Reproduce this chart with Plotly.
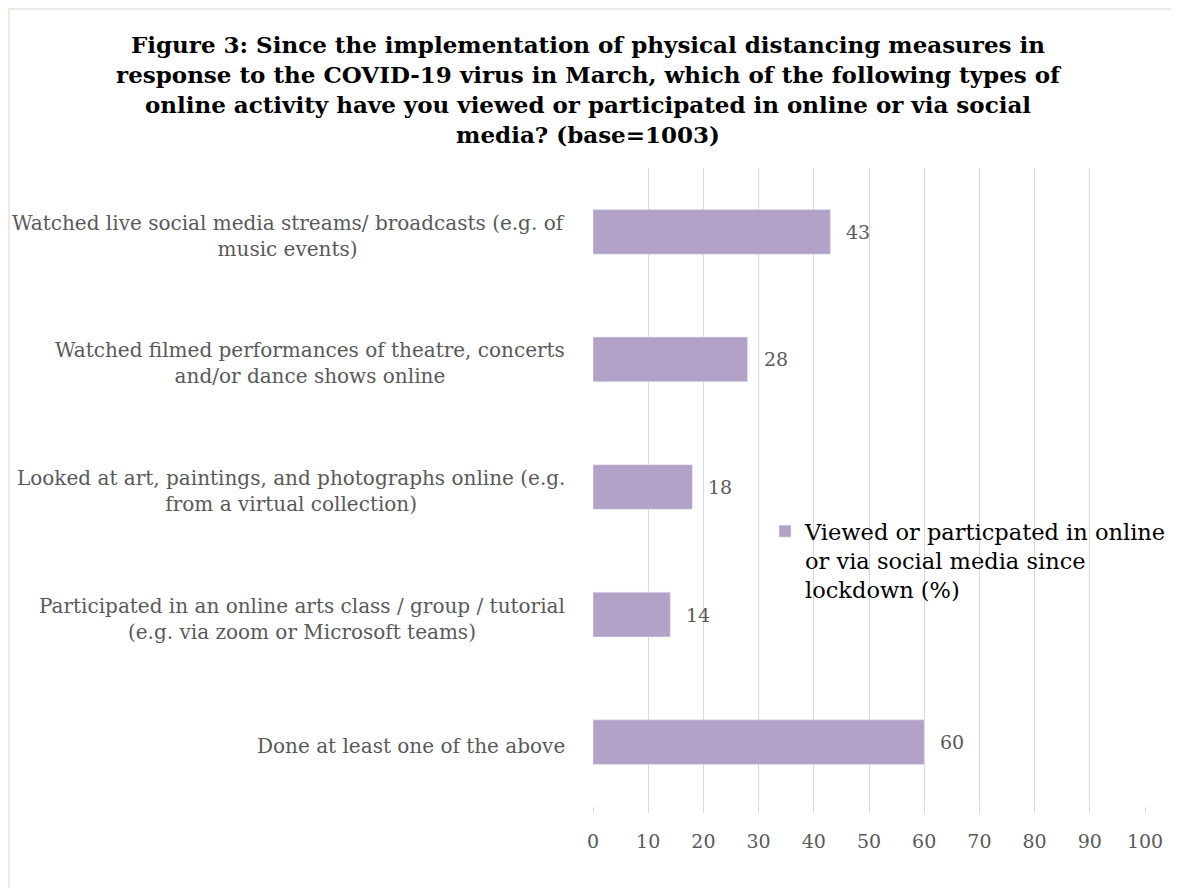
import plotly.graph_objects as go

categories = [
    "Watched live social media streams/ broadcasts (e.g. of<br>music events)",
    "Watched filmed performances of theatre, concerts<br>and/or dance shows online",
    "Looked at art, paintings, and photographs online (e.g.<br>from a virtual collection)",
    "Participated in an online arts class / group / tutorial<br>(e.g. via zoom or Microsoft teams)",
    "Done at least one of the above",
]
values = [43, 28, 18, 14, 60]
series_name = "Viewed or particpated in online<br>or via social media since<br>lockdown (%)"
tick_vals = [0, 10, 20, 30, 40, 50, 60, 70, 80, 90, 100]

W, H = 1179, 888
L, R, T, B = 585, 42, 160, 90
PW, PH = W - L - R, H - T - B
FONT = "DejaVu Serif"
GRAY = "#595959"

fig = go.Figure()
fig.add_trace(go.Bar(
    y=categories, x=values, orientation="h", name=series_name,
    marker=dict(color="#B3A2C7"), width=0.35, showlegend=True,
))

for c, v in zip(categories, values):
    fig.add_annotation(
        x=-0.047, xref="paper", y=c, yref="y", text=c, showarrow=False,
        xanchor="right", align="center", yshift=-4,
        font=dict(family=FONT, size=20, color=GRAY),
    )
    fig.add_annotation(
        x=v, xref="x", y=c, yref="y", text=str(v), showarrow=False,
        xanchor="left", xshift=14,
        font=dict(family=FONT, size=19, color=GRAY),
    )

fig.update_layout(
    width=W, height=H,
    margin=dict(l=L, r=R, t=T, b=B),
    paper_bgcolor="white", plot_bgcolor="white",
    title=dict(
        text="<b>Figure 3: Since the implementation of physical distancing measures in<br>"
             "response to the COVID-19 virus in March, which of the following types of<br>"
             "online activity have you viewed or participated in online or via social<br>"
             "media? (base=1003)</b>",
        x=580 / W, xref="container", xanchor="center",
        y=1 - 45 / H, yref="container", yanchor="top",
        font=dict(family=FONT, size=23, color="black"),
    ),
    xaxis=dict(
        range=[0, 100], tickvals=tick_vals, showgrid=True, gridcolor="#D9D9D9",
        gridwidth=1, zeroline=False, showline=False,
        ticks="outside", ticklen=6, tickcolor="#D9D9D9",
        ticklabelstandoff=12,
        tickfont=dict(family=FONT, size=19, color=GRAY),
    ),
    yaxis=dict(
        categoryorder="array", categoryarray=categories[::-1],
        showticklabels=False, showgrid=False, zeroline=False, showline=False,
    ),
    legend=dict(
        x=(757 - L) / PW, xanchor="left", y=(PH + T - 502) / PH, yanchor="top",
        font=dict(family=FONT, size=22.5, color="black"),
        bgcolor="rgba(0,0,0,0)", itemwidth=30, valign="top",
    ),
    shapes=[dict(type="rect", xref="paper", yref="paper",
                 x0=(1 - L) / PW, x1=(W + 20 - L) / PW,
                 y0=(PH + T - H - 20) / PH, y1=(PH + T - 1) / PH,
                 line=dict(color="#ECEBE3", width=2), layer="below")],
)

fig.write_html("out.html")
